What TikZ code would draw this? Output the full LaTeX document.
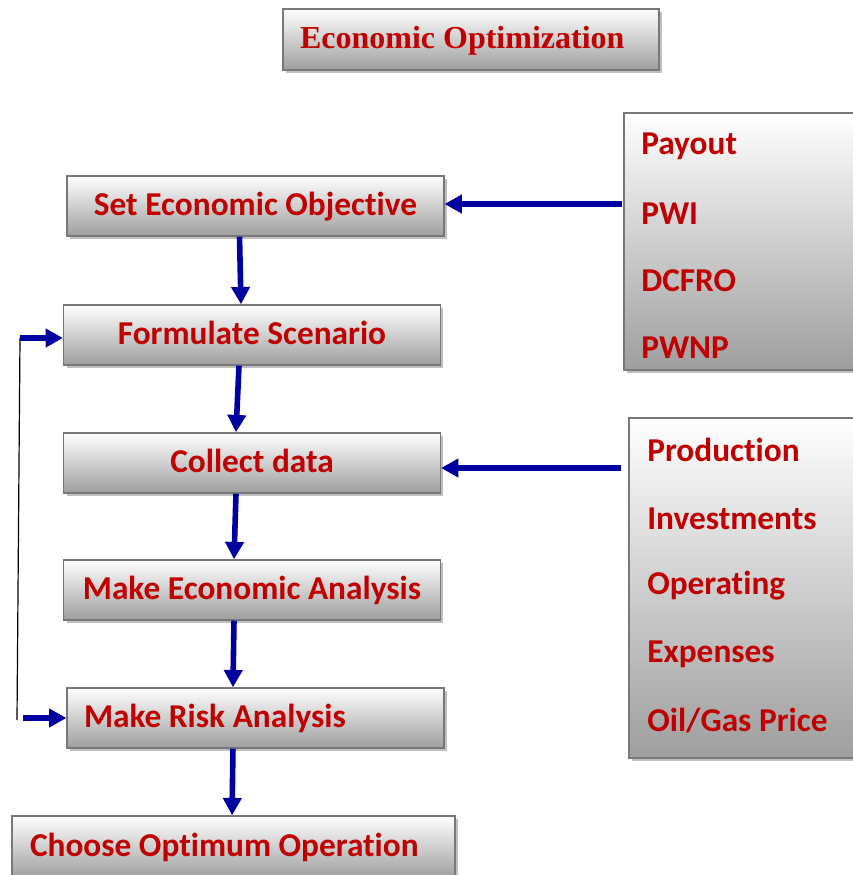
\documentclass[tikz,border=0pt]{standalone}
\usepackage{fontspec}
\setmainfont{Carlito}[Ligatures={NoCommon}]
\newfontfamily\titlefont{Liberation Serif}
\usetikzlibrary{arrows.meta,shadows}
\definecolor{txtred}{RGB}{192,0,0}
\definecolor{flowblue}{RGB}{0,0,160}
\definecolor{edgegray}{RGB}{120,120,120}
\begin{document}
\begin{tikzpicture}[x=0.75pt,y=-0.75pt,
  shadebox/.style={draw=edgegray, line width=1.1pt, top color=white, bottom color=black!38,
    drop shadow={shadow xshift=2.2pt, shadow yshift=-2.2pt, fill=black!25, opacity=1},
    text=txtred, font=\bfseries\fontsize{25}{28}\selectfont, inner sep=0pt,
    text height=17pt, text depth=3pt},
  flowbox/.style={shadebox, minimum width=282.5pt, minimum height=45pt},
  listbox/.style={shadebox},
  item/.style={text=txtred, font=\bfseries\fontsize{25}{28}\selectfont, anchor=west, inner sep=0pt},
  flow/.style={draw=flowblue, line width=4.2pt, -{Triangle[length=13pt,width=13.5pt]}},
  feed/.style={draw=black, line width=0.9pt}]
\useasboundingbox (0,0) rectangle (853,875);

% title
\node[shadebox, minimum width=282pt, minimum height=45.75pt,
  font=\titlefont\bfseries\fontsize{24}{28}\selectfont] (title) at (471,39.5)
  {\makebox[256.5pt][l]{Economic Optimization}};

% main sequence
\node[flowbox] (obj) at (255.5,206) {Set Economic Objective};
\node[flowbox] (scen) at (252,335) {Formulate Scenario};
\node[flowbox] (data) at (252,463) {Collect data};
\node[flowbox] (econ) at (252,590) {Make Economic Analysis};
\node[flowbox] (risk) at (255.5,718) {\makebox[257.25pt][l]{Make Risk Analysis}};
\node[shadebox, minimum width=332.25pt, minimum height=46.5pt] (opt) at (233.5,847)
  {\makebox[305.25pt][l]{Choose Optimum Operation}};

% criteria list
\node[listbox, minimum width=174pt, minimum height=192.75pt] (crit) at (740,241.5) {};
\node[item] (c1) at (641,146) {Payout};
\node[item] (c2) at (641,214) {PWI};
\node[item] (c3) at (641,281) {DCFRO};
\node[item] (c4) at (641,348) {PWNP};

% data list
\node[listbox, minimum width=170.25pt, minimum height=255pt] (inp) at (742.5,588) {};
\node[item] (d1) at (647,450) {Production};
\node[item] (d2) at (647,519) {Investments};
\node[item] (d3) at (647,586) {Operating};
\node[item] (d4) at (647,654) {Expenses};
\node[item] (d5) at (647,721) {Oil/Gas Price};

% vertical flow
\draw[flow] ([xshift=-12pt]obj.south) -- ([xshift=-8.25pt]scen.north);
\draw[flow] ([xshift=-9.75pt]scen.south) -- ([xshift=-12pt]data.north);
\draw[flow] ([xshift=-12pt]data.south) -- ([xshift=-13.5pt]econ.north);
\draw[flow] ([xshift=-13.5pt]econ.south) -- ([xshift=-16.9pt]risk.north);
\draw[flow] ([xshift=-16.9pt]risk.south) -- ([xshift=-1.1pt]opt.north);

% inputs from the lists
\coordinate (critout) at (622,204);
\coordinate (inpout) at (621,468);
\draw[flow] (critout) -- (obj.east |- critout);
\draw[flow] (inpout) -- (data.east |- inpout);

% feedback loop
\coordinate (fbot) at (17,720);
\coordinate (ftop) at (20,338);
\coordinate (fin) at (23,718);
\draw[feed] (fbot) -- (ftop);
\draw[flow] (ftop) -- (scen.west |- ftop);
\draw[flow] (fin) -- (risk.west |- fin);
\end{tikzpicture}
\end{document}
